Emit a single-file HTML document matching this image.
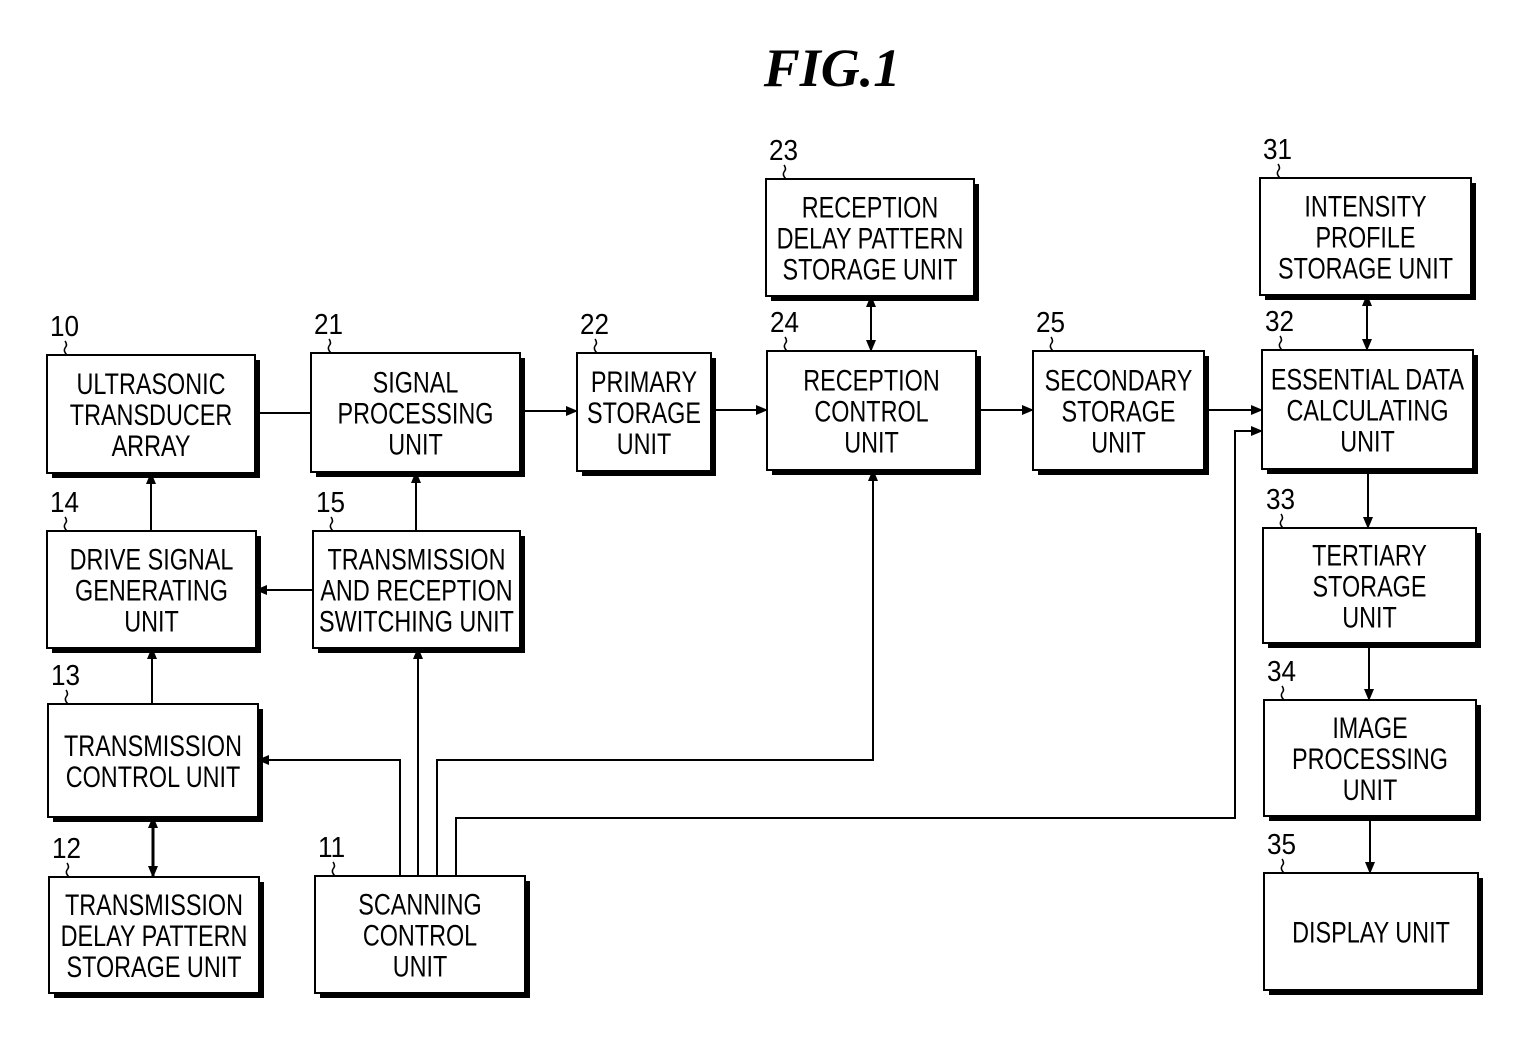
<!DOCTYPE html>
<html><head><meta charset="utf-8"><style>
html,body{margin:0;padding:0;background:#fff}
svg{display:block}
.t{font-family:"Liberation Sans",sans-serif;font-size:30px;fill:#000;text-anchor:middle}
.n{font-family:"Liberation Sans","DejaVu Sans",sans-serif;font-size:29px;fill:#000}
</style></head><body>
<svg width="1536" height="1061" viewBox="0 0 1536 1061" xmlns="http://www.w3.org/2000/svg">
<defs>
<marker id="a" markerWidth="12" markerHeight="10" refX="11" refY="5" orient="auto" markerUnits="userSpaceOnUse"><path d="M0,0 L12,5 L0,10 z" fill="#000"/></marker>
<marker id="s" markerWidth="12" markerHeight="10" refX="1" refY="5" orient="auto" markerUnits="userSpaceOnUse"><path d="M12,0 L0,5 L12,10 z" fill="#000"/></marker>
</defs>
<text x="832" y="86" text-anchor="middle" style="font-family:'Liberation Serif',serif;font-weight:bold;font-style:italic;font-size:54px">FIG.1</text>
<g stroke="#000" stroke-width="2" fill="none">
<line x1="255" y1="413" x2="311" y2="413"/>
<line x1="520" y1="411" x2="577" y2="411" marker-end="url(#a)"/>
<line x1="711" y1="410" x2="767" y2="410" marker-end="url(#a)"/>
<line x1="976" y1="410" x2="1033" y2="410" marker-end="url(#a)"/>
<line x1="1204" y1="410" x2="1262" y2="410" marker-end="url(#a)"/>
<line x1="871" y1="296" x2="871" y2="351" marker-start="url(#s)" marker-end="url(#a)"/>
<line x1="1367" y1="295" x2="1367" y2="350" marker-start="url(#s)" marker-end="url(#a)"/>
<line x1="1368" y1="469" x2="1368" y2="528" marker-end="url(#a)"/>
<line x1="1369" y1="643" x2="1369" y2="700" marker-end="url(#a)"/>
<line x1="1370" y1="816" x2="1370" y2="873" marker-end="url(#a)"/>
<line x1="151" y1="531" x2="151" y2="473" marker-end="url(#a)"/>
<line x1="416" y1="531" x2="416" y2="472" marker-end="url(#a)"/>
<line x1="313" y1="590" x2="256" y2="590" marker-end="url(#a)"/>
<line x1="152" y1="704" x2="152" y2="648" marker-end="url(#a)"/>
<line x1="153" y1="817" x2="153" y2="877" marker-start="url(#s)" marker-end="url(#a)" stroke-width="3"/>
<polyline points="400,876 400,760 258,760" marker-end="url(#a)"/>
<line x1="418" y1="876" x2="418" y2="648" marker-end="url(#a)"/>
<polyline points="437,876 437,760 873,760 873,470" marker-end="url(#a)"/>
<polyline points="456,876 456,818 1235,818 1235,431 1262,431" marker-end="url(#a)"/>
</g>
<g id="B"></g>
<script>
const B=[
[47,355,208,118,["ULTRASONIC","TRANSDUCER","ARRAY"],"10"],
[311,353,209,119,["SIGNAL","PROCESSING","UNIT"],"21"],
[577,353,134,118,["PRIMARY","STORAGE","UNIT"],"22"],
[767,351,209,119,["RECEPTION","CONTROL","UNIT"],"24"],
[766,179,208,117,["RECEPTION","DELAY PATTERN","STORAGE UNIT"],"23"],
[1033,351,171,119,["SECONDARY","STORAGE","UNIT"],"25"],
[1260,178,211,117,["INTENSITY","PROFILE","STORAGE UNIT"],"31"],
[1262,350,211,119,["ESSENTIAL DATA","CALCULATING","UNIT"],"32"],
[1263,528,213,115,["TERTIARY","STORAGE","UNIT"],"33"],
[1264,700,212,116,["IMAGE","PROCESSING","UNIT"],"34"],
[1264,873,214,117,["DISPLAY UNIT"],"35"],
[47,531,209,117,["DRIVE SIGNAL","GENERATING","UNIT"],"14"],
[313,531,207,117,["TRANSMISSION","AND RECEPTION","SWITCHING UNIT"],"15"],
[48,704,210,113,["TRANSMISSION","CONTROL UNIT"],"13"],
[49,877,210,116,["TRANSMISSION","DELAY PATTERN","STORAGE UNIT"],"12"],
[315,876,210,117,["SCANNING","CONTROL","UNIT"],"11"]];
const ns="http://www.w3.org/2000/svg",g=document.getElementById("B");
function el(t,a,txt){const e=document.createElementNS(ns,t);for(const k in a)e.setAttribute(k,a[k]);if(txt)e.textContent=txt;g.appendChild(e);return e;}
for(const [x,y,w,h,lines,n] of B){
el("rect",{x:x+5,y:y+5,width:w,height:h,fill:"#000"});
el("rect",{x:x,y:y,width:w,height:h,fill:"#fff",stroke:"#000","stroke-width":2});
const cx=x+w/2,cy=y+h/2,lh=31,y0=cy-(lines.length-1)*lh/2+11;
lines.forEach((l,i)=>el("text",{x:0,y:y0+i*lh,class:"t",transform:`translate(${cx},0) scale(0.78,1)`},l));
el("text",{x:x+3,y:y-19,class:"n",transform:`translate(${x+3},0) scale(0.9,1) translate(${-(x+3)},0)`},n);
el("path",{d:`M${x+18},${y-14} q3,4 0,7 q-2,3 2,7`,stroke:"#000",fill:"none","stroke-width":1.5});
}
</script>
</svg>
</body></html>
